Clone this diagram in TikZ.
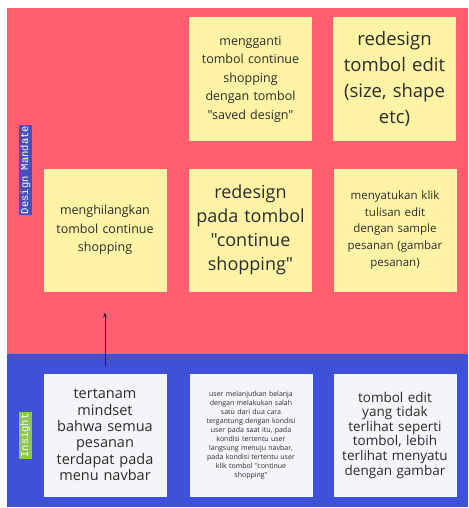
\documentclass[tikz,border=0pt]{standalone}
\usepackage{fontspec}
\setmainfont{Open Sans}[Ligatures=TeXOff]
\setmonofont{Liberation Mono}
\usetikzlibrary{arrows.meta,positioning,shadows}

\definecolor{mandatered}{HTML}{FF5F6E}
\definecolor{insightblue}{HTML}{3F51D8}
\definecolor{stickyyellow}{HTML}{FFF4A6}
\definecolor{stickygray}{HTML}{F4F5F8}
\definecolor{labelblue}{HTML}{4152C0}
\definecolor{labelgreen}{HTML}{8CC84B}
\definecolor{inktext}{HTML}{2B2B2B}

\begin{document}
\begin{tikzpicture}[
  x=1pt,y=-1pt,
  sticky/.style={
    minimum width=123pt,
    minimum height=123pt,
    text width=112pt,
    align=center,
    inner sep=0pt,
    outer sep=0pt,
    text=inktext,
    drop shadow={shadow xshift=0pt,shadow yshift=-4pt,
      shadow scale=0.93,opacity=0.3,fill=black}
  },
  mandate note/.style={sticky,fill=stickyyellow},
  insight note/.style={sticky,fill=stickygray},
  lane tag/.style={
    rotate=90,
    font=\ttfamily\fontsize{10.5}{11}\selectfont,
    inner xsep=1pt,
    inner ysep=2pt,
    text=white
  },
  flow arrow/.style={
    -{Stealth[length=5pt,width=4pt]},
    draw=black!85,
    line width=0.8pt
  }
]

\useasboundingbox (0,0) rectangle (468,508);

% lanes
\fill[mandatered] (7,8) rectangle (468,354);
\fill[insightblue] (7,354) rectangle (468,507);

\node[lane tag,fill=labelblue] (mandate-tag) at (25.5,170) {Design Mandate};
\node[lane tag,fill=labelgreen] (insight-tag) at (25.5,435.5) {Insight};

% design mandate notes
\node[mandate note,font=\fontsize{12.5}{18.5}\selectfont] (ganti) at (250.5,79) {
  mengganti\\
  tombol continue\\
  shopping\\
  dengan tombol\\
  "saved design"
};
\node[mandate note,font=\fontsize{18.5}{26}\selectfont] (edit) at (394.5,79) {
  redesign\\
  tombol edit\\
  (size, shape\\
  etc)
};
\node[mandate note,font=\fontsize{12.5}{18.3}\selectfont] (hilangkan) at (105,230) {
  menghilangkan\\
  tombol continue\\
  shopping
};
\node[mandate note,font=\fontsize{18}{24}\selectfont] (continue) at (250.5,230) {
  redesign\\
  pada tombol\\
  "continue\\
  shopping"
};
\node[mandate note,font=\fontsize{11.5}{16.7}\selectfont] (satukan) at (395,230) {
  menyatukan klik\\
  tulisan edit\\
  dengan sample\\
  pesanan (gambar\\
  pesanan)
};

% insight notes
\node[insight note,font=\fontsize{14.5}{16.3}\selectfont] (tertanam) at (105,435) {
  tertanam\\
  mindset\\
  bahwa semua\\
  pesanan\\
  terdapat pada\\
  menu navbar
};
\node[insight note,font=\fontsize{7}{9}\selectfont] (belanja) at (251,435) {
  user melanjutkan belanja\\
  dengan melakukan salah\\
  satu dari dua cara\\
  tergantung dengan kondisi\\
  user pada saat itu, pada\\
  kondisi tertentu user\\
  langsung menuju navbar,\\
  pada kondisi tertentu user\\
  klik tombol "continue\\
  shopping"
};
\node[insight note,font=\fontsize{13.5}{14.6}\selectfont] (menyatu) at (395,435) {
  tombol edit\\
  yang tidak\\
  terlihat seperti\\
  tombol, lebih\\
  terlihat menyatu\\
  dengan gambar
};

\draw[flow arrow] ([yshift=8pt]tertanam.north) -- ([yshift=-21pt]hilangkan.south);

\end{tikzpicture}
\end{document}
